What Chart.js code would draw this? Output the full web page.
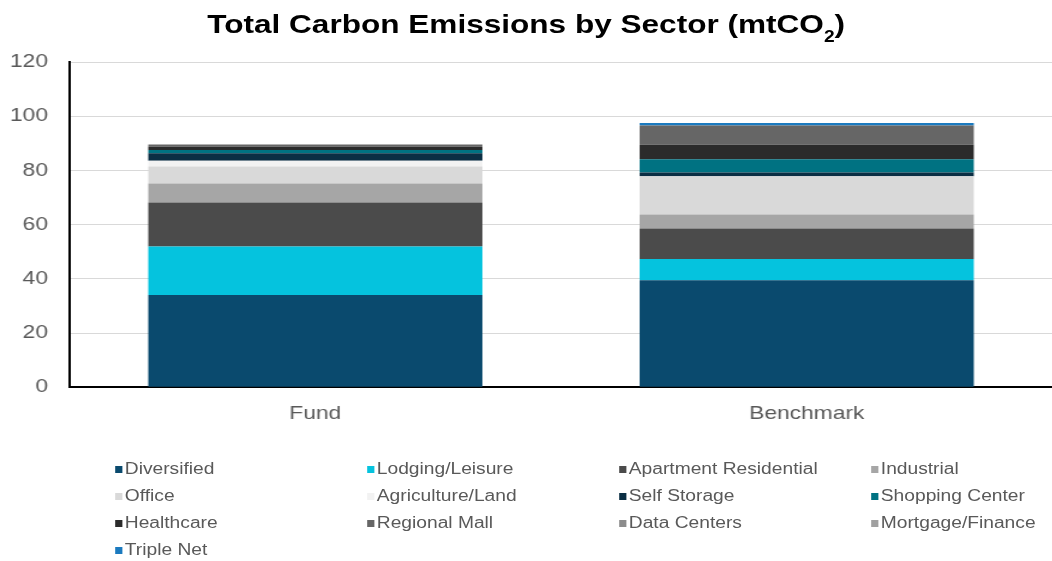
<!DOCTYPE html>
<html>
<head>
<meta charset="utf-8">
<script src="https://cdn.jsdelivr.net/npm/chart.js@4"></script>
<style>
  html, body { margin: 0; background: #fff; overflow: hidden; font-family: "Liberation Sans", Arial, sans-serif; }
  /* the reference is stretched sideways, so lay out narrow and widen the whole thing */
  #wrap { position: relative; width: 877px; height: 561px; transform: scaleX(1.2); transform-origin: 0 0; }
  #title {
    position: absolute; left: 0; top: 11px; width: 877px; text-align: center;
    font-size: 26.3px; line-height: 26px; font-weight: bold; color: #000; white-space: nowrap;
  }
  #title span { font-size: 16px; vertical-align: -9px; }
  #box { position: absolute; left: 0; top: 0; width: 877px; height: 440px; }
  #legend {
    position: absolute; left: 96px; top: 458px;
    display: grid; grid-template-columns: repeat(4, 210px); row-gap: 5px;
    font-size: 16px; color: #595959;
  }
  .item { display: flex; align-items: center; height: 22px; white-space: nowrap; }
  .sw { width: 6px; height: 7px; margin-right: 2px; flex: none; }
</style>
</head>
<body>
<div id="wrap">
  <div id="title">Total Carbon Emissions by Sector (mtCO<span>2</span>)</div>
  <div id="box"><canvas id="c"></canvas></div>
  <div id="legend"></div>
</div>
<script>
const categories = ["Fund", "Benchmark"];
const sectors = ["Diversified", "Lodging/Leisure", "Apartment Residential", "Industrial",
  "Office", "Agriculture/Land", "Self Storage", "Shopping Center",
  "Healthcare", "Regional Mall", "Data Centers", "Mortgage/Finance", "Triple Net"];
const fund      = [34.0, 17.9, 16.3, 7.0, 6.2, 2.2, 2.7, 1.2, 1.2, 0.9, 0, 0, 0];
const benchmark = [39.5, 7.8, 11.3, 5.1, 14.1, 0, 1.4, 4.9, 5.4, 7.1, 0, 0, 0.9];
const colors = ["#0a4a6e", "#05c3de", "#4b4b4b", "#a6a6a6", "#d9d9d9", "#f2f2f2",
  "#0b2e44", "#007282", "#2b2b2b", "#666666", "#8c8c8c", "#a0a0a0", "#1b7abf"];
const yTicks = [0, 20, 40, 60, 80, 100, 120];

const datasets = sectors.map((s, i) => ({
  label: s,
  data: [fund[i], benchmark[i]],
  backgroundColor: colors[i],
  barPercentage: 0.68,
  categoryPercentage: 1.0
}));

const chart = new Chart(document.getElementById("c"), {
  type: "bar",
  data: { labels: categories, datasets: datasets },
  options: {
    responsive: true,
    maintainAspectRatio: false,
    animation: false,
    layout: { padding: { left: 0, right: 0, top: 62, bottom: 8 } },
    plugins: {
      legend: { display: false },
      tooltip: { enabled: false },
      title: { display: false }
    },
    scales: {
      x: {
        stacked: true,
        grid: { display: false },
        border: { color: "#000", width: 2 },
        ticks: { color: "#595959", font: { family: "Liberation Sans", size: 19 }, padding: 7 }
      },
      y: {
        stacked: true,
        min: 0, max: 120,
        afterBuildTicks: (axis) => { axis.ticks = yTicks.map(v => ({ value: v })); },
        afterFit: (axis) => { axis.width = 58; },
        grid: { color: "#d9d9d9", lineWidth: 1, drawTicks: false },
        border: { color: "#000", width: 2 },
        ticks: { color: "#595959", font: { family: "Liberation Sans", size: 19 }, padding: 18 }
      }
    }
  }
});

// legend in a four-column grid, built from the chart's datasets
const lg = document.getElementById("legend");
chart.data.datasets.forEach(ds => {
  const d = document.createElement("div");
  d.className = "item";
  d.innerHTML = '<span class="sw" style="background:' + ds.backgroundColor + '"></span>' + ds.label;
  lg.appendChild(d);
});
</script>
</body>
</html>
